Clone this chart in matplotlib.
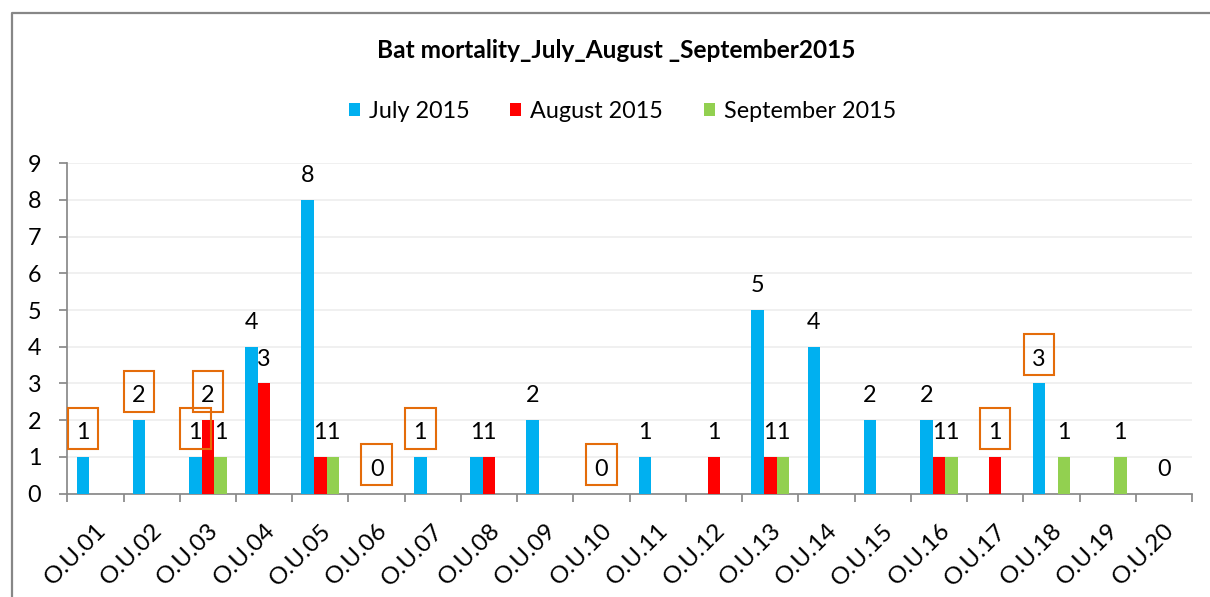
import matplotlib
matplotlib.use('Agg')
import matplotlib.pyplot as plt
from matplotlib.patches import Rectangle
from matplotlib.lines import Line2D
import matplotlib.transforms as mtransforms
import numpy as np

categories = ["O.U.01", "O.U.02", "O.U.03", "O.U.04", "O.U.05", "O.U.06", "O.U.07",
              "O.U.08", "O.U.09", "O.U.10", "O.U.11", "O.U.12", "O.U.13", "O.U.14",
              "O.U.15", "O.U.16", "O.U.17", "O.U.18", "O.U.19", "O.U.20"]
july = [1, 2, 1, 4, 8, 0, 1, 1, 2, 0, 1, 0, 5, 4, 2, 2, 0, 3, 0, 0]
august = [0, 0, 2, 3, 1, 0, 0, 1, 0, 0, 0, 1, 1, 0, 0, 1, 1, 0, 0, 0]
september = [0, 0, 1, 0, 1, 0, 0, 0, 0, 0, 0, 0, 1, 0, 0, 1, 0, 1, 1, 0]
series_names = ["July 2015", "August 2015", "September 2015"]
yticks = [0, 1, 2, 3, 4, 5, 6, 7, 8, 9]
title = "Bat mortality_July_August _September2015"
# (category index, series index) of labels drawn with an orange frame
boxed = [(0, 0), (1, 0), (2, 0), (2, 1), (5, 1), (6, 0), (9, 1), (16, 1), (17, 0)]

colors = ["#00B0F0", "#FF0000", "#92D050"]
box_color = "#E46C0A"
axis_color = "#898989"
FONT = "Lato"
FS = 16.8

plt.rcParams['font.family'] = [FONT, 'DejaVu Sans']

W, H = 1210, 597
fig = plt.figure(figsize=(W / 100, H / 100), dpi=100)
ax_l, ax_r, ax_t, ax_b = 67.3, 1192, 163.3, 493.5
ax = fig.add_axes([ax_l / W, 1 - ax_b / H, (ax_r - ax_l) / W, (ax_b - ax_t) / H])

data = [july, august, september]
x = np.arange(len(categories))
bw = 0.224
offsets = [-bw, 0, bw]
handles = []
for s, vals in enumerate(data):
    h = ax.bar(x + offsets[s], vals, width=bw, color=colors[s], label=series_names[s], zorder=3)
    handles.append(h)

# data labels
for s, vals in enumerate(data):
    for i, v in enumerate(vals):
        allzero = july[i] == 0 and august[i] == 0 and september[i] == 0
        if v == 0 and not (allzero and s == 1):
            continue
        xpos = i + offsets[s]
        ax.annotate(str(v), (xpos, v), xytext=(0, 12.7), textcoords='offset points',
                    ha='center', va='baseline', fontsize=FS, color='black', zorder=5,
                    annotation_clip=False)
        if (i, s) in boxed:
            trans = fig.dpi_scale_trans + mtransforms.ScaledTranslation(xpos, v, ax.transData)
            rect = Rectangle((-0.153, 0.288 - 0.205), 0.306, 0.41, transform=trans,
                             fill=False, edgecolor=box_color, lw=1.5, clip_on=False, zorder=6)
            ax.add_artist(rect)

ax.set_xlim(-0.5, len(categories) - 0.5)
ax.set_ylim(0, 9)
ax.set_yticks(yticks)
ax.set_yticklabels([str(t) for t in yticks])
ax.set_xticks(np.arange(-0.5, len(categories), 1))
ax.set_xticklabels([])
ax.set_xticks(x, minor=True)
ax.set_xticklabels(categories, minor=True, rotation=45, ha='right', rotation_mode='anchor')
ax.tick_params(axis='x', which='major', length=6, width=1.25, color=axis_color, direction='out')
ax.tick_params(axis='x', which='minor', length=0, pad=19, labelsize=17.6)
ax.tick_params(axis='y', length=6, width=1.25, color=axis_color, direction='out', pad=12.7, labelsize=FS)

ax.grid(axis='y', color='#EDEDED', lw=1.2, zorder=0)
ax.set_axisbelow(True)
for sp in ['top', 'right']:
    ax.spines[sp].set_visible(False)
for sp in ['left', 'bottom']:
    ax.spines[sp].set_color(axis_color)
    ax.spines[sp].set_linewidth(1.25)

fig.text(616 / W, 1 - 50 / H, title, ha='center', va='center', fontsize=17.6, fontweight='bold')

fig.legend(handles, series_names, loc='center', bbox_to_anchor=(622.5 / W, 1 - 111 / H),
           ncol=3, frameon=False, fontsize=FS, handlelength=0.47, handleheight=0.5,
           handletextpad=0.39, columnspacing=1.74, borderpad=0, borderaxespad=0)

# outer chart frame
fig.add_artist(Line2D([12 / W, 12 / W, 1.01], [-0.01, 1 - 13 / H, 1 - 13 / H],
                      transform=fig.transFigure, color='#878787', lw=1.6))

fig.savefig('out.png', dpi=100)
